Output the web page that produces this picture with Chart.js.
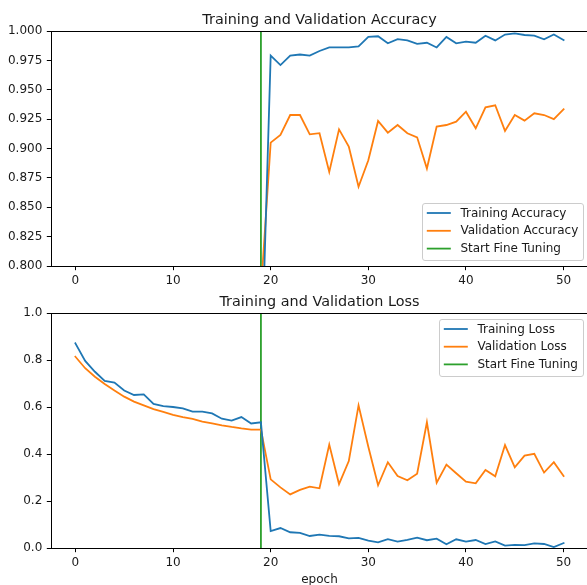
<!DOCTYPE html>
<html>
<head>
<meta charset="utf-8">
<script src="https://cdn.jsdelivr.net/npm/chart.js@4.4.1/dist/chart.umd.min.js"></script>
<style>
	body { margin: 0; background: #fff; overflow: hidden; width: 587px; height: 585px; position: relative; }
	canvas { position: absolute; left: 0; }
	#accChart { top: 0; }
	#lossChart { top: 290px; }
</style>
</head>
<body>
<canvas id="accChart" width="590" height="290"></canvas>
<canvas id="lossChart" width="590" height="300"></canvas>
<script>
// values
let epochTicks = [0, 10, 20, 30, 40, 50];
let accTicks = [0.800, 0.825, 0.850, 0.875, 0.900, 0.925, 0.950, 0.975, 1.000];
let lossTicks = [0.0, 0.2, 0.4, 0.6, 0.8, 1.0];
let fineTuneEpoch = 19;

let trainAcc = [0.52, 0.58, 0.61, 0.63, 0.64, 0.65, 0.66, 0.66, 0.67, 0.68, 0.68, 0.68, 0.69, 0.69, 0.69, 0.70, 0.70, 0.70, 0.71, 0.70,
	0.979, 0.971, 0.979, 0.980, 0.979, 0.983, 0.986, 0.986, 0.986, 0.987, 0.995, 0.9955, 0.9895, 0.993, 0.992, 0.989,
	0.990, 0.986, 0.995, 0.9895, 0.991, 0.990, 0.996, 0.992, 0.997, 0.998, 0.9966, 0.996, 0.993, 0.997, 0.9923];
let valAcc = [0.62, 0.67, 0.70, 0.71, 0.72, 0.73, 0.74, 0.74, 0.75, 0.75, 0.76, 0.76, 0.76, 0.77, 0.77, 0.77, 0.77, 0.78, 0.78, 0.778,
	0.905, 0.9115, 0.9285, 0.9285, 0.912, 0.913, 0.880, 0.9163, 0.9016, 0.8675, 0.890, 0.9234, 0.9135, 0.920, 0.913, 0.9095,
	0.883, 0.9186, 0.920, 0.9228, 0.9313, 0.9172, 0.935, 0.9368, 0.915, 0.9285, 0.9237, 0.930, 0.9285, 0.925, 0.9334];
let trainLoss = [0.871, 0.796, 0.750, 0.711, 0.704, 0.670, 0.651, 0.654, 0.613, 0.604, 0.600, 0.594, 0.580, 0.580, 0.573, 0.550, 0.542, 0.557, 0.530, 0.535,
	0.072, 0.085, 0.067, 0.064, 0.051, 0.057, 0.052, 0.050, 0.041, 0.043, 0.031, 0.024, 0.038, 0.027, 0.035, 0.044,
	0.033, 0.040, 0.016, 0.037, 0.027, 0.034, 0.017, 0.028, 0.010, 0.013, 0.012, 0.020, 0.017, 0.004, 0.021];
let valLoss = [0.814, 0.765, 0.729, 0.698, 0.670, 0.644, 0.623, 0.607, 0.591, 0.579, 0.567, 0.557, 0.549, 0.538, 0.530, 0.522, 0.515, 0.509, 0.504, 0.504,
	0.292, 0.258, 0.228, 0.247, 0.261, 0.254, 0.440, 0.272, 0.370, 0.607, 0.431, 0.267, 0.365, 0.306, 0.288, 0.316,
	0.535, 0.278, 0.355, 0.318, 0.282, 0.275, 0.332, 0.305, 0.438, 0.343, 0.393, 0.401, 0.321, 0.365, 0.306];

const BLUE = '#1f77b4';
const ORANGE = '#ff7f0e';
const GREEN = '#2ca02c';
const INK = '#1a1a1a';

Chart.defaults.font.family = 'DejaVu Sans';
Chart.defaults.font.size = 12;
Chart.defaults.color = INK;

function toPoints(vals) {
	return vals.map(function (v, i) { return { x: i, y: v }; });
}

function lineSet(label, vals, color) {
	return {
		label: label,
		data: vals,
		borderColor: color,
		backgroundColor: color,
		borderWidth: 1.8,
		borderCapStyle: 'square',
		pointRadius: 0,
		tension: 0,
		fill: false
	};
}

// spines, title and a matplotlib-like legend box
let mplDecor = {
	id: 'mplDecor',
	afterDatasetsDraw: function (chart, args, opts) {
		let ctx = chart.ctx;
		let a = chart.chartArea;
		ctx.save();
		ctx.strokeStyle = '#000';
		ctx.lineWidth = 1;
		ctx.strokeRect(a.left + 0.5, a.top + 0.5, a.right - a.left, a.bottom - a.top);

		ctx.fillStyle = INK;
		ctx.font = '14.4px "DejaVu Sans"';
		ctx.textAlign = 'center';
		ctx.textBaseline = 'alphabetic';
		ctx.fillText(opts.title, (a.left + a.right) / 2, a.top - 7.5);

		let lg = opts.legend;
		ctx.beginPath();
		ctx.roundRect(lg.x + 0.5, lg.y + 0.5, lg.w, lg.h, 2.5);
		ctx.fillStyle = 'rgba(255,255,255,0.8)';
		ctx.fill();
		ctx.strokeStyle = '#cccccc';
		ctx.lineWidth = 1;
		ctx.stroke();

		ctx.font = '12px "DejaVu Sans"';
		ctx.textAlign = 'left';
		ctx.textBaseline = 'middle';
		chart.data.datasets.forEach(function (ds, i) {
			let y = lg.y + lg.first + i * lg.step;
			ctx.beginPath();
			ctx.moveTo(lg.x + 4.8, y);
			ctx.lineTo(lg.x + 4.8 + 24, y);
			ctx.strokeStyle = ds.borderColor;
			ctx.lineWidth = 1.8;
			ctx.stroke();
			ctx.fillStyle = INK;
			ctx.fillText(ds.label, lg.x + 4.8 + 24 + 9.6, y + 0.5);
		});
		ctx.restore();
	}
};

function makeScales(yTicks, yFmt, xHeight, xTitle) {
	return {
		x: {
			type: 'linear',
			min: -2.5,
			max: 52.5,
			afterBuildTicks: function (scale) {
				scale.ticks = epochTicks.map(function (v) { return { value: v }; });
			},
			afterFit: function (scale) { scale.height = xHeight; },
			grid: { drawOnChartArea: false, drawTicks: true, tickLength: 4.2, tickWidth: 1, color: '#000' },
			border: { display: false },
			ticks: { padding: 3.5, maxRotation: 0, color: INK },
			title: xTitle ? { display: true, text: xTitle, padding: { top: 0, bottom: 2.8 }, color: INK } : { display: false }
		},
		y: {
			min: yTicks[0],
			max: yTicks[yTicks.length - 1],
			afterBuildTicks: function (scale) {
				scale.ticks = yTicks.map(function (v) { return { value: v }; });
			},
			afterFit: function (scale) { scale.width = 51; },
			grid: { drawOnChartArea: false, drawTicks: true, tickLength: 4.2, tickWidth: 1, color: '#000' },
			border: { display: false },
			ticks: {
				padding: 4.5,
				color: INK,
				callback: function (v) { return yFmt(v); }
			}
		}
	};
}

new Chart(document.getElementById('accChart'), {
	type: 'line',
	data: {
		datasets: [
			lineSet('Training Accuracy', toPoints(trainAcc), BLUE),
			lineSet('Validation Accuracy', toPoints(valAcc), ORANGE),
			lineSet('Start Fine Tuning', [{ x: fineTuneEpoch, y: accTicks[0] }, { x: fineTuneEpoch, y: accTicks[accTicks.length - 1] }], GREEN)
		]
	},
	options: {
		responsive: false,
		animation: false,
		devicePixelRatio: 1,
		layout: { padding: { top: 31, left: 0, right: 2, bottom: 0 } },
		scales: makeScales(accTicks, function (v) { return v.toFixed(3); }, 24, null),
		plugins: {
			legend: { display: false },
			tooltip: { enabled: false },
			mplDecor: {
				title: 'Training and Validation Accuracy',
				legend: { x: 422, y: 203, w: 161, h: 57, first: 10, step: 17.8 }
			}
		}
	},
	plugins: [mplDecor]
});

new Chart(document.getElementById('lossChart'), {
	type: 'line',
	data: {
		datasets: [
			lineSet('Training Loss', toPoints(trainLoss), BLUE),
			lineSet('Validation Loss', toPoints(valLoss), ORANGE),
			lineSet('Start Fine Tuning', [{ x: fineTuneEpoch, y: lossTicks[0] }, { x: fineTuneEpoch, y: lossTicks[lossTicks.length - 1] }], GREEN)
		]
	},
	options: {
		responsive: false,
		animation: false,
		devicePixelRatio: 1,
		layout: { padding: { top: 23, left: 0, right: 2, bottom: 0 } },
		scales: makeScales(lossTicks, function (v) { return v.toFixed(1); }, 42, 'epoch'),
		plugins: {
			legend: { display: false },
			tooltip: { enabled: false },
			mplDecor: {
				title: 'Training and Validation Loss',
				legend: { x: 439, y: 29, w: 144, h: 57, first: 10, step: 17.7 }
			}
		}
	},
	plugins: [mplDecor]
});
</script>
</body>
</html>
